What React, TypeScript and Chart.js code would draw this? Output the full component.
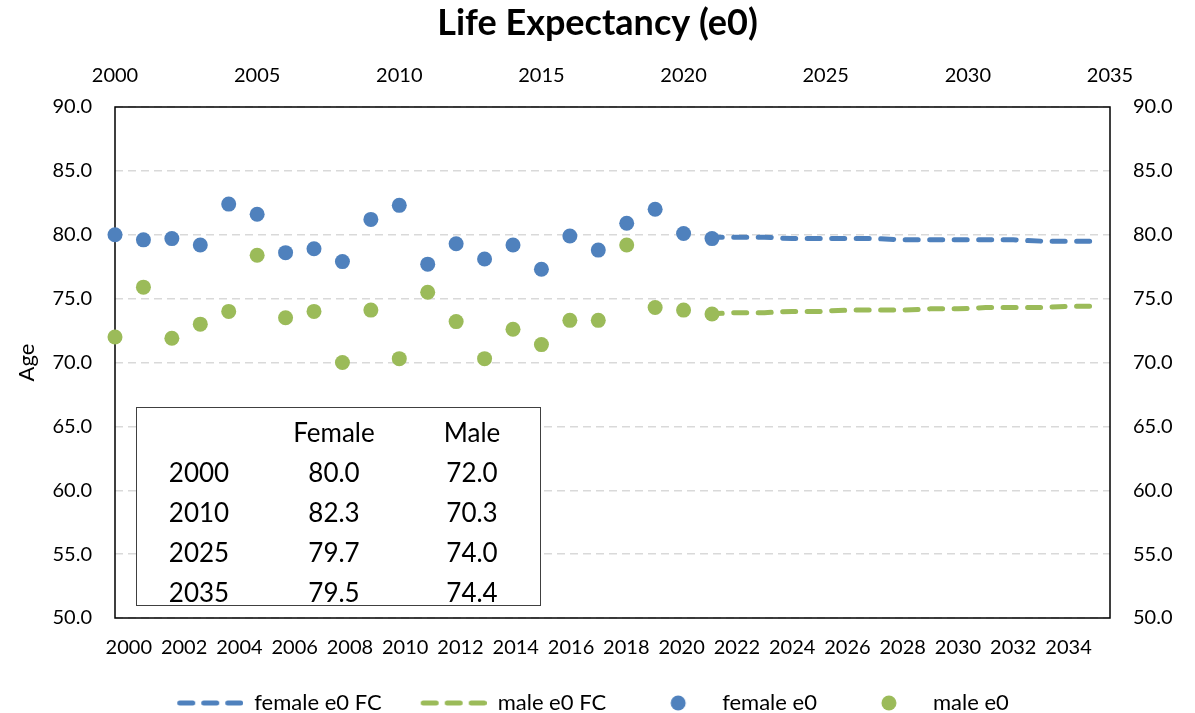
import React, { useEffect, useRef } from 'react';
import { Chart, registerables } from 'chart.js';

Chart.register(...registerables);

// Bottom category axis labels
const axisYears = [
  '2000', '2001', '2002', '2003', '2004', '2005', '2006', '2007', '2008', '2009',
  '2010', '2011', '2012', '2013', '2014', '2015', '2016', '2017', '2018', '2019',
  '2020', '2021', '2022', '2023', '2024', '2025', '2026', '2027', '2028', '2029',
  '2030', '2031', '2032', '2033', '2034', '2035',
];

// Observed values (plotted against the top year axis)
const obsYears = [
  2000, 2001, 2002, 2003, 2004, 2005, 2006, 2007, 2008, 2009, 2010,
  2011, 2012, 2013, 2014, 2015, 2016, 2017, 2018, 2019, 2020, 2021,
];
const femaleObs = [
  80.0, 79.6, 79.7, 79.2, 82.4, 81.6, 78.6, 78.9, 77.9, 81.2, 82.3,
  77.7, 79.3, 78.1, 79.2, 77.3, 79.9, 78.8, 80.9, 82.0, 80.1, 79.7,
];
const maleObs = [
  72.0, 75.9, 71.9, 73.0, 74.0, 78.4, 73.5, 74.0, 70.0, 74.1, 70.3,
  75.5, 73.2, 70.3, 72.6, 71.4, 73.3, 73.3, 79.2, 74.3, 74.1, 73.8,
];

// Forecast values (plotted against the bottom category axis)
const fcYears = [
  '2021', '2022', '2023', '2024', '2025', '2026', '2027', '2028',
  '2029', '2030', '2031', '2032', '2033', '2034', '2035',
];
const femaleFC = [79.8, 79.8, 79.8, 79.7, 79.7, 79.7, 79.7, 79.6, 79.6, 79.6, 79.6, 79.6, 79.5, 79.5, 79.5];
const maleFC = [73.8, 73.9, 73.9, 74.0, 74.0, 74.1, 74.1, 74.1, 74.2, 74.2, 74.3, 74.3, 74.3, 74.4, 74.4];

// Summary table
const tableHeader = ['', 'Female', 'Male'];
const tableYears = ['2000', '2010', '2025', '2035'];
const tableFemale = ['80.0', '82.3', '79.7', '79.5'];
const tableMale = ['72.0', '70.3', '74.0', '74.4'];

const BLUE = '#4F81BD';
const GREEN = '#9BBB59';
const FONT = 'Lato';

const ICON_LEAD = 31; // leading space inside each legend symbol box
const ICON_W = 66 + ICON_LEAD;

function makeDashIcon(color: string): HTMLCanvasElement {
  const c = document.createElement('canvas');
  c.width = ICON_W;
  c.height = 22;
  const ctx = c.getContext('2d')!;
  ctx.strokeStyle = color;
  ctx.lineWidth = 5;
  ctx.lineCap = 'round';
  const segs = [[2.5, 15.5], [26.5, 39.5], [50.5, 63.5]];
  segs.forEach(([a, b]) => {
    ctx.beginPath();
    ctx.moveTo(ICON_LEAD + a, 11);
    ctx.lineTo(ICON_LEAD + b, 11);
    ctx.stroke();
  });
  return c;
}

function makeDotIcon(color: string): HTMLCanvasElement {
  const c = document.createElement('canvas');
  c.width = ICON_W;
  c.height = 22;
  const ctx = c.getContext('2d')!;
  ctx.fillStyle = color;
  ctx.beginPath();
  ctx.arc(ICON_LEAD + 33, 11, 7.5, 0, Math.PI * 2);
  ctx.fill();
  return c;
}

const framePlugin = {
  id: 'frame',
  beforeDatasetsDraw(chart: any) {
    const { ctx, chartArea } = chart;
    const { left, top, right, bottom } = chartArea;
    ctx.save();
    ctx.strokeStyle = '#000';
    ctx.lineWidth = 1.5;
    ctx.strokeRect(left, top, right - left, bottom - top);
    ctx.restore();
  },
};

const legendShiftPlugin = {
  id: 'legendShift',
  afterLayout(chart: any) {
    const l = chart.legend;
    if (l) {
      l.top += 11;
      l.bottom += 11;
      l.left -= 20;
      l.right -= 20;
    }
  },
};

export default function App() {
  const canvasRef = useRef<HTMLCanvasElement | null>(null);

  useEffect(() => {
    const canvas = canvasRef.current;
    if (!canvas) return;
    const icons = [makeDashIcon(BLUE), makeDashIcon(GREEN), makeDotIcon(BLUE), makeDotIcon(GREEN)];
    const tickFont = { family: FONT, size: 20 };

    const chart = new Chart(canvas, {
      type: 'line',
      data: {
        labels: axisYears,
        datasets: [
          {
            label: 'female e0 FC',
            data: fcYears.map((y, i) => ({ x: y, y: femaleFC[i] })),
            xAxisID: 'x',
            yAxisID: 'y',
            borderColor: BLUE,
            backgroundColor: BLUE,
            borderWidth: 5,
            borderDash: [13, 11.5],
            borderCapStyle: 'round',
            pointRadius: 0,
            fill: false,
            order: 1,
          },
          {
            label: 'male e0 FC',
            data: fcYears.map((y, i) => ({ x: y, y: maleFC[i] })),
            xAxisID: 'x',
            yAxisID: 'y',
            borderColor: GREEN,
            backgroundColor: GREEN,
            borderWidth: 5,
            borderDash: [13, 11.5],
            borderCapStyle: 'round',
            pointRadius: 0,
            fill: false,
            order: 1,
          },
          {
            label: 'female e0',
            data: obsYears.map((y, i) => ({ x: y, y: femaleObs[i] })),
            xAxisID: 'x2',
            yAxisID: 'y',
            showLine: false,
            pointRadius: 7.5,
            pointHoverRadius: 7.5,
            pointBorderWidth: 0,
            pointBackgroundColor: BLUE,
            borderColor: BLUE,
            backgroundColor: BLUE,
            clip: false,
            order: 0,
          },
          {
            label: 'male e0',
            data: obsYears.map((y, i) => ({ x: y, y: maleObs[i] })),
            xAxisID: 'x2',
            yAxisID: 'y',
            showLine: false,
            pointRadius: 7.5,
            pointHoverRadius: 7.5,
            pointBorderWidth: 0,
            pointBackgroundColor: GREEN,
            borderColor: GREEN,
            backgroundColor: GREEN,
            clip: false,
            order: 0,
          },
        ] as any,
      },
      options: {
        responsive: false,
        animation: false,
        layout: { padding: 0 },
        scales: {
          x: {
            type: 'category',
            position: 'bottom',
            offset: true,
            grid: { display: false, drawTicks: false },
            border: { display: false },
            ticks: {
              autoSkip: false,
              maxRotation: 0,
              minRotation: 0,
              padding: 18,
              color: '#000',
              font: tickFont,
              callback: (_v: any, idx: number) => (idx % 2 === 0 ? axisYears[idx] : ''),
            },
            afterFit: (s: any) => { s.height = 55; },
          },
          x2: {
            type: 'linear',
            position: 'top',
            min: 2000,
            max: 2035,
            grid: { display: false, drawTicks: false },
            border: { display: false },
            ticks: {
              stepSize: 5,
              padding: 19,
              color: '#000',
              font: tickFont,
              callback: (v: any) => String(v),
            },
            afterFit: (s: any) => { s.height = 61.8; },
          },
          y: {
            type: 'linear',
            position: 'left',
            min: 50,
            max: 90,
            grid: { display: true, drawTicks: false, color: '#D9D9D9', lineWidth: 1.5 },
            border: { display: false, dash: [8, 5] },
            ticks: {
              stepSize: 5,
              padding: 23,
              color: '#000',
              font: tickFont,
              callback: (v: any) => Number(v).toFixed(1),
            },
            title: {
              display: true,
              text: 'Age',
              color: '#000',
              font: { family: FONT, size: 22 },
              padding: { top: 14, bottom: 0 },
            },
            afterFit: (s: any) => { s.width = 115; },
          },
          y2: {
            type: 'linear',
            position: 'right',
            min: 50,
            max: 90,
            grid: { display: false, drawTicks: false },
            border: { display: false },
            ticks: {
              stepSize: 5,
              padding: 23,
              color: '#000',
              font: tickFont,
              callback: (v: any) => Number(v).toFixed(1),
            },
            afterFit: (s: any) => { s.width = 85; },
          },
        },
        plugins: {
          title: {
            display: true,
            text: 'Life Expectancy (e0)',
            color: '#000',
            font: { family: FONT, size: 36, weight: 'bold' },
            padding: { top: 2, bottom: 0 },
          },
          legend: {
            display: true,
            position: 'bottom',
            labels: {
              usePointStyle: true,
              pointStyleWidth: ICON_W,
              padding: 8,
              color: '#000',
              font: { family: FONT, size: 22 },
              generateLabels: (ch: any) =>
                ch.data.datasets.map((ds: any, i: number) => ({
                  text: ds.label,
                  pointStyle: icons[i],
                  fillStyle: ds.borderColor,
                  strokeStyle: ds.borderColor,
                  lineWidth: 0,
                  hidden: false,
                  datasetIndex: i,
                  fontColor: '#000',
                })),
            },
          },
          tooltip: { enabled: false },
        },
      } as any,
      plugins: [framePlugin, legendShiftPlugin],
    });

    return () => {
      chart.destroy();
    };
  }, []);

  const colX = [199, 334, 472];
  const rowY = [432, 472, 512, 552, 592];
  const cellStyle = (cx: number, cy: number): React.CSSProperties => ({
    position: 'absolute',
    left: cx - 70,
    top: cy - 20,
    width: 140,
    height: 40,
    lineHeight: '40px',
    textAlign: 'center',
    fontFamily: FONT,
    fontSize: 26,
    color: '#000',
    whiteSpace: 'nowrap',
  });

  const rows: string[][] = [tableHeader];
  tableYears.forEach((y, i) => rows.push([y, tableFemale[i], tableMale[i]]));

  return (
    <div style={{ position: 'fixed', left: 0, top: 0, width: 1195, height: 713, background: '#fff' }}>
      <canvas ref={canvasRef} width={1195} height={713} style={{ display: 'block', width: 1195, height: 713 }} />
      <div
        style={{
          position: 'absolute',
          left: 136,
          top: 407,
          width: 405,
          height: 199,
          boxSizing: 'border-box',
          border: '1.5px solid #404040',
          background: '#fff',
        }}
      />
      {rows.map((r, ri) =>
        r.map((t, ci) => (
          <div key={`${ri}-${ci}`} style={cellStyle(colX[ci], rowY[ri])}>
            {t}
          </div>
        ))
      )}
    </div>
  );
}
